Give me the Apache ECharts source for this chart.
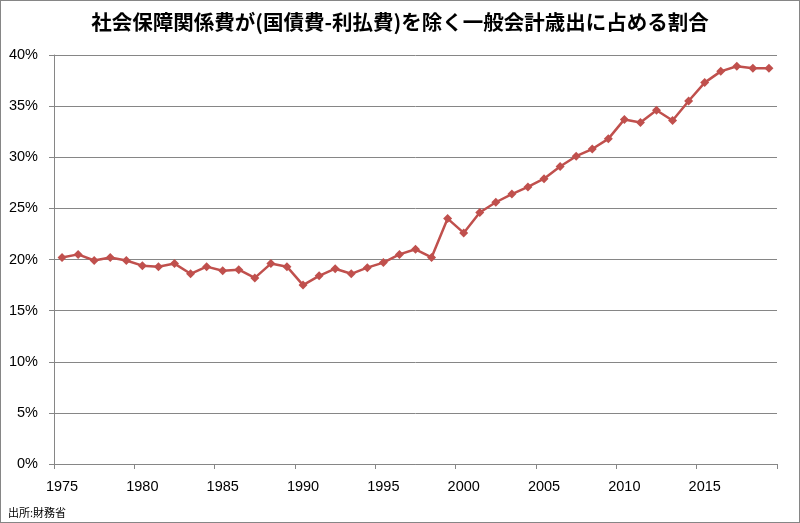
<!DOCTYPE html>
<html><head><meta charset="utf-8">
<script src="https://cdn.jsdelivr.net/npm/echarts@6/dist/echarts.min.js"></script>
<style>
html,body{margin:0;padding:0;background:#fff;}
#c{width:800px;height:523px;box-sizing:border-box;border:1px solid #868686;}
</style></head>
<body><div id="c"></div>
<script>
const titleText = '社会保障関係費が(国債費-利払費)を除く一般会計歳出に占める割合';
const sourceText = '出所:財務省';
const years = [];
for (let y = 1975; y <= 2019; y++) years.push(String(y));
const ratio = [20.2,20.5,19.9,20.2,19.9,19.4,19.3,19.6,18.6,19.3,18.9,19.0,18.2,19.6,19.3,17.5,18.4,19.1,18.6,19.2,19.7,20.5,21.0,20.2,24.0,22.6,24.6,25.6,26.4,27.1,27.9,29.1,30.1,30.8,31.8,33.7,33.4,34.6,33.6,35.5,37.3,38.4,38.9,38.7,38.7];
const yTicks = [0,5,10,15,20,25,30,35,40];

const chart = echarts.init(document.getElementById('c'), null, {renderer:'canvas'});
chart.setOption({
  animation:false,
  title:{text:titleText,left:'center',top:6,textStyle:{fontFamily:'Noto Sans CJK JP',fontWeight:'bold',fontSize:20.5,color:'#000'}},
  graphic:[{type:'text',left:7,top:506,style:{text:sourceText,font:'11px "Noto Sans CJK JP"',fill:'#000'}}],
  grid:{left:53,right:22,top:54,bottom:58,containLabel:false},
  xAxis:{type:'category',data:years,boundaryGap:true,
    axisLine:{lineStyle:{color:'#868686',width:1}},
    axisTick:{show:true,interval:4,length:5,lineStyle:{color:'#868686'}},
    axisLabel:{interval:4,margin:15,fontFamily:'Liberation Sans',fontSize:14.5,color:'#000'}},
  yAxis:{type:'value',min:yTicks[0],max:yTicks[yTicks.length-1],interval:5,
    axisLine:{show:true,lineStyle:{color:'#868686'}},
    axisTick:{show:true,length:5,lineStyle:{color:'#868686'}},
    splitLine:{lineStyle:{color:'#868686',width:1}},
    axisLabel:{formatter:'{value}%',margin:16,fontFamily:'Liberation Sans',fontSize:14.5,color:'#000'}},
  series:[{type:'line',data:ratio,symbol:'diamond',symbolSize:9,
    lineStyle:{color:'#C0504D',width:2.5},itemStyle:{color:'#C0504D'}}]
});
</script></body></html>
